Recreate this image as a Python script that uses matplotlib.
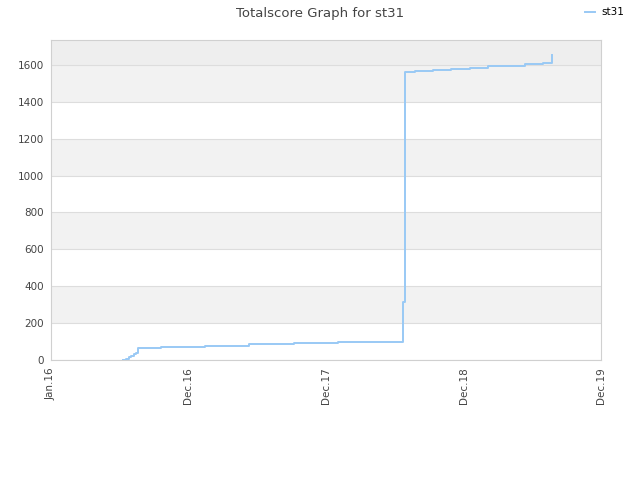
import matplotlib
matplotlib.use("Agg")
import matplotlib.pyplot as plt

# x positions in "period" units: 0 = Jan.16, 1 = Dec.16, 2 = Dec.17, ...
x_pos = [0.524, 0.545, 0.565, 0.585, 0.605, 0.62, 0.633, 0.633, 0.80, 1.12,
         1.44, 1.767, 2.087, 2.407, 2.56, 2.575, 2.647, 2.778, 2.909, 3.047,
         3.178, 3.316, 3.447, 3.578, 3.644, 3.644]
scores = [0, 7, 15, 23, 31, 40, 49, 65, 72, 77,
          85, 92, 97, 100, 316, 1563, 1569, 1574, 1580, 1585,
          1592, 1596, 1603, 1608, 1612, 1654]
tick_labels = ["Jan.16", "Dec.16", "Dec.17", "Dec.18", "Dec.19"]
y_ticks = [0, 200, 400, 600, 800, 1000, 1200, 1400, 1600]

fig = plt.figure(figsize=(6.4, 4.8), dpi=100)
ax = fig.add_axes([51 / 640, 120 / 480, 550 / 640, 320 / 480])

y_top = 1735
for i, lo in enumerate(y_ticks):
    hi = lo + 200 if lo < 1600 else y_top
    if lo == 1600:
        ax.axhspan(lo, hi, color="#eeeeee", zorder=0, lw=0)
    elif i % 2 == 1:
        ax.axhspan(lo, hi, color="#f2f2f2", zorder=0, lw=0)
    ax.axhline(lo, color="#dddddd", lw=0.8, zorder=1)

ax.plot(x_pos, scores, drawstyle="steps-post", color="#99c9f5", lw=1.4,
        label="st31", zorder=3)

ax.set_xlim(0, 4)
ax.set_ylim(0, y_top)
ax.set_xticks(range(len(tick_labels)))
ax.set_xticklabels(tick_labels, rotation=90, fontsize=7.5, color="#444444")
ax.set_yticks(y_ticks)
ax.set_yticklabels([str(v) for v in y_ticks], fontsize=7.5, color="#444444")
ax.tick_params(length=0, pad=5)
for s in ax.spines.values():
    s.set_color("#d0d0d0")
    s.set_linewidth(0.8)

fig.text(0.5, 0.986, "Totalscore Graph for st31", ha="center", va="top",
         fontsize=9.5, color="#444444")
fig.legend(loc="upper right", bbox_to_anchor=(0.99, 1.004), frameon=False,
           fontsize=7.5, handlelength=1.0, handletextpad=0.6)

fig.savefig("out.png", dpi=100)
